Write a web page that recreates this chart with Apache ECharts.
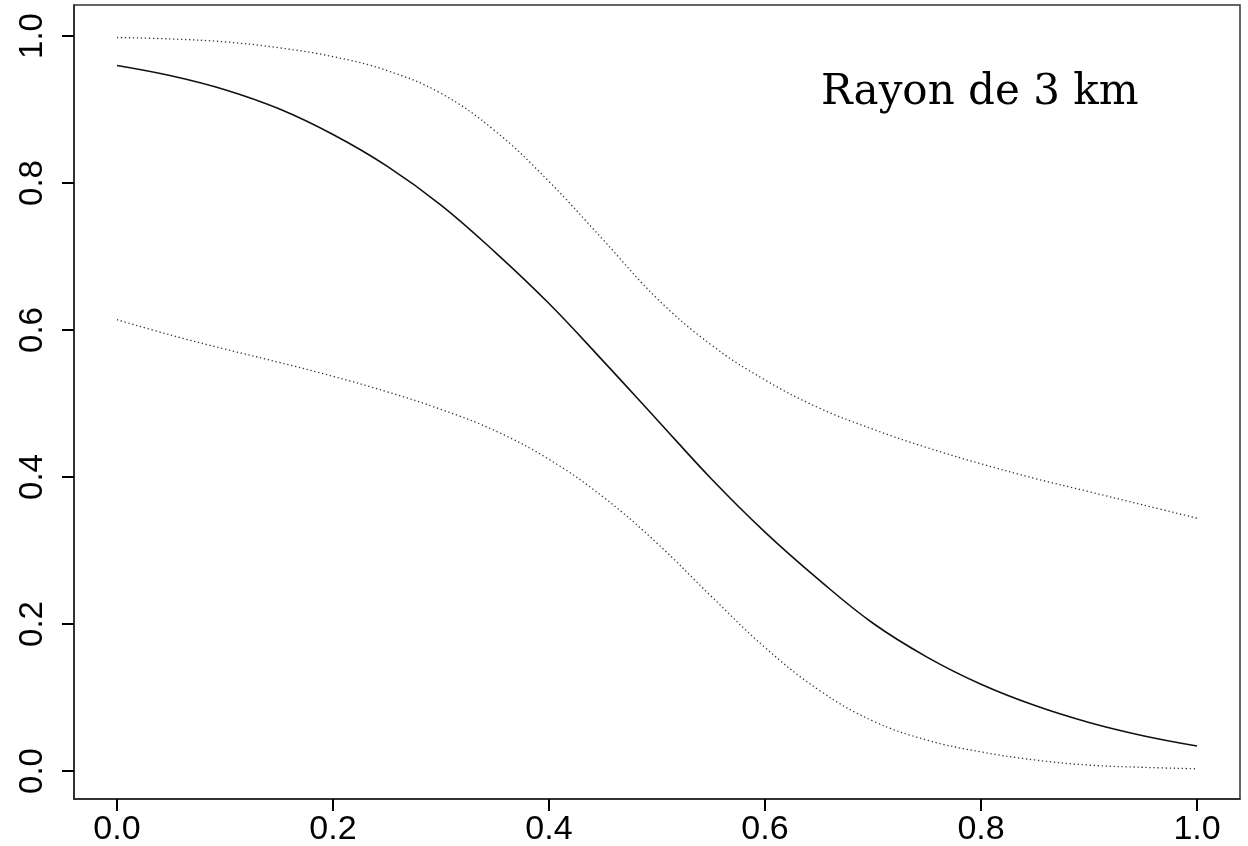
<!DOCTYPE html>
<html>
<head>
<meta charset="utf-8">
<script src="https://cdn.jsdelivr.net/npm/echarts@6/dist/echarts.min.js"></script>
<style>
html,body{margin:0;padding:0;background:#fff;}
#chart{width:1248px;height:846px;}
</style>
</head>
<body>
<div id="chart"></div>
<script>
// Proportion x-values
var xValues = [0.00,0.05,0.10,0.15,0.20,0.25,0.30,0.35,0.40,0.45,0.50,0.55,0.60,0.65,0.70,0.75,0.80,0.85,0.90,0.95,1.00];
// Fitted curve (solid)
var fitValues = [0.960,0.946,0.927,0.901,0.866,0.823,0.770,0.706,0.636,0.558,0.478,0.398,0.325,0.260,0.201,0.155,0.118,0.089,0.066,0.048,0.034];
// Upper confidence bound (dotted)
var upperValues = [0.998,0.996,0.992,0.984,0.972,0.953,0.922,0.871,0.802,0.723,0.643,0.580,0.532,0.494,0.465,0.440,0.418,0.398,0.380,0.362,0.344];
// Lower confidence bound (dotted)
var lowerValues = [0.614,0.593,0.574,0.556,0.537,0.516,0.492,0.463,0.424,0.373,0.310,0.238,0.168,0.110,0.068,0.042,0.026,0.015,0.008,0.005,0.003];
// Tick values
var xTicks = [0, 0.2, 0.4, 0.6, 0.8, 1.0];
var yTicks = [0, 0.2, 0.4, 0.6, 0.8, 1.0];
var annotation = 'Rayon de 3 km';

function zip(xs, ys){ return xs.map(function(x,i){ return [x, ys[i]]; }); }

var chart = echarts.init(document.getElementById('chart'), null, {renderer:'canvas'});
var axisFont = 'Liberation Sans, Arial, sans-serif';
chart.setOption({
  animation: false,
  backgroundColor: '#ffffff',
  title: {
    text: annotation,
    left: 816,
    top: 67,
    textStyle: {fontFamily: 'DejaVu Serif', fontWeight: 'normal', fontSize: 42, color: '#000'}
  },
  grid: {
    left: 74, right: 8, top: 5, bottom: 47,
    show: true, borderColor: '#333', borderWidth: 1.5,
    containLabel: false, outerBoundsMode: 'none'
  },
  xAxis: {
    type: 'value', min: -0.0398, max: 1.0398, position: 'bottom',
    splitLine: {show: false},
    axisLine: {show: true, onZero: false, lineStyle: {color: '#222', width: 1.5}},
    axisTick: {show: true, inside: false, length: 12, customValues: xTicks, lineStyle: {color: '#000', width: 2}},
    axisLabel: {show: true, customValues: xTicks, margin: 14, fontSize: 34, fontFamily: axisFont, color: '#000',
      formatter: function(v){ return v.toFixed(1); }}
  },
  yAxis: {
    type: 'value', min: -0.0381, max: 1.0422, position: 'left',
    splitLine: {show: false},
    axisLine: {show: true, onZero: false, lineStyle: {color: '#222', width: 1.5}},
    axisTick: {show: true, inside: false, length: 12, customValues: yTicks, lineStyle: {color: '#000', width: 2}},
    axisLabel: {show: true, customValues: yTicks, margin: 25, rotate: 90, fontSize: 33, fontFamily: axisFont, color: '#000',
      formatter: function(v){ return v.toFixed(1); }}
  },
  series: [
    {type: 'line', data: zip(xValues, fitValues), showSymbol: false, smooth: 0.4,
      lineStyle: {color: '#111', width: 1.6, type: 'solid'}},
    {type: 'line', data: zip(xValues, upperValues), showSymbol: false, smooth: 0.4,
      lineStyle: {color: '#333', width: 1.3, type: [1.3, 2.7]}},
    {type: 'line', data: zip(xValues, lowerValues), showSymbol: false, smooth: 0.4,
      lineStyle: {color: '#333', width: 1.3, type: [1.3, 2.7]}}
  ]
});
</script>
</body>
</html>
